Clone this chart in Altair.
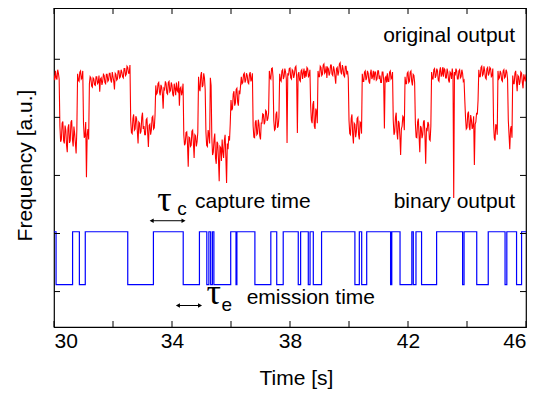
import altair as alt
import pandas as pd

# ---------------- data ----------------
# original (red) output, read every 0.025 s from 30 s
red_t0 = 30.0
red_dt = 0.025
red_values = [
    3.72, 3.64, 3.80, 3.68, 3.65, 3.82, 3.76, 3.66,
    2.85, 2.58, 2.62, 2.90, 2.93, 2.60, 2.55, 2.86, 2.78, 2.52, 2.40, 2.82,
    2.88, 2.56, 2.60, 2.92, 2.95, 2.62, 2.50, 2.84, 2.72, 2.55, 2.38, 2.80,
    3.75, 3.64, 3.62, 3.78, 3.80, 3.66, 3.68, 3.80,
    2.90, 2.65, 2.68, 2.92, 1.97, 2.70, 2.80, 2.62,
    3.58, 3.70, 3.68, 3.54, 3.52, 3.68, 3.66, 3.56, 3.55, 3.70, 3.70, 3.58, 3.60, 3.72,
    3.44, 3.66, 3.68, 3.56, 3.62, 3.74, 3.72, 3.60, 3.58, 3.74, 3.74, 3.62, 3.64, 3.76,
    3.76, 3.64, 3.60, 3.78, 3.70, 3.62, 3.48, 3.76, 3.74, 3.64, 3.66, 3.80, 3.80, 3.68,
    3.70, 3.82, 3.78, 3.70, 3.68, 3.84, 3.84, 3.72, 3.74, 3.88, 3.86, 3.76, 3.76, 3.90,
    2.95, 2.74, 2.72, 2.98, 3.05, 2.78, 2.80, 3.02, 2.98, 2.76, 2.55, 2.92, 2.90, 2.72,
    2.76, 3.00, 3.08, 2.80, 2.85, 2.70, 2.70, 2.96, 2.98, 2.74, 2.49, 2.86, 2.88, 2.70,
    2.78, 3.00, 3.02, 2.80, 2.82, 3.04,
    3.55, 3.40, 3.42, 3.58, 3.60, 3.44, 3.38, 3.56, 3.52, 3.40, 3.15, 3.50, 3.48, 3.62,
    3.58, 3.42, 3.40, 3.60, 3.62, 3.44, 3.46, 3.60, 3.55, 3.40, 3.36, 3.58, 3.50, 3.38,
    3.60, 3.46, 3.44, 3.62, 3.20, 3.50, 3.52, 3.38, 3.45, 3.58,
    2.70, 2.52, 2.55, 2.74, 2.75, 2.54, 2.15, 2.66, 2.65, 2.50, 2.52, 2.76, 2.78, 2.56,
    2.30, 2.70, 2.68, 2.50, 2.58, 2.74,
    3.70, 3.50, 3.45, 3.72, 3.78, 3.52, 3.55, 3.76, 3.68, 3.48,
    2.75, 2.52, 2.50, 2.78, 2.70, 2.55,
    3.68, 3.55,
    2.65, 2.35, 2.40, 2.62, 2.72, 2.30, 2.20, 2.58, 2.55, 2.28, 1.90, 2.50, 2.48, 2.25,
    2.62, 2.40, 2.30, 2.60, 2.70, 2.32, 1.87, 2.55, 2.45, 2.68, 2.60, 2.90,
    3.30, 3.12, 3.15, 3.40, 3.45, 3.20, 3.25, 3.48, 3.50, 3.26, 3.20, 3.46, 3.40, 3.55,
    3.70, 3.58, 3.60, 3.74, 3.76, 3.60, 3.64, 3.76, 3.72, 3.60, 3.58, 3.74, 3.78, 3.62,
    3.66, 3.76,
    2.85, 2.66, 2.65, 2.92, 2.95, 2.70, 2.72, 2.96, 2.88, 2.68, 2.62, 2.90, 2.90, 3.06,
    3.05, 2.88, 2.92, 3.12, 3.10, 2.94, 2.98, 3.08,
    3.80, 3.68, 3.66, 3.84, 3.85, 3.70,
    2.95, 2.78, 2.80, 3.05, 3.10, 2.82, 2.85, 3.00,
    3.75, 3.64, 3.62, 3.80, 3.82, 3.66, 3.70, 3.84, 3.78, 3.66, 2.56, 3.76, 3.72, 3.84,
    3.85, 3.68, 3.66, 3.82, 3.80, 3.68, 3.74, 3.86, 3.88, 3.70, 2.73, 3.74, 3.78, 3.64,
    3.62, 3.80, 3.82, 3.66, 3.76, 3.84, 3.68, 3.80, 3.70, 3.86, 3.84, 3.70, 3.72, 3.82,
    3.20, 2.95, 2.90, 3.22, 3.28, 2.85, 2.80, 3.15, 3.10, 2.90,
    3.80, 3.70, 3.70, 3.88, 3.86, 3.72, 3.74, 3.90, 3.92, 3.76, 3.78, 3.88, 3.68, 3.86,
    3.84, 3.72, 3.76, 3.90, 3.90, 3.74, 3.72, 3.88, 3.82, 3.70, 3.58, 3.84, 3.86, 3.72,
    3.78, 3.92, 3.94, 3.78, 3.74, 3.90, 3.84, 3.72, 3.70, 3.88, 3.88, 3.74, 3.80, 3.68,
    2.95, 2.72, 2.70, 2.98, 3.05, 2.70, 2.55, 2.90, 2.88, 2.66, 2.75, 2.98, 3.00, 2.70,
    2.62, 2.92, 2.90, 2.72,
    3.75, 3.62, 3.62, 3.78, 3.80, 3.64, 3.68, 3.80, 3.76, 3.62, 3.58, 3.76, 3.82, 3.66,
    3.70, 3.80, 3.64, 3.78, 3.78, 3.64, 3.66, 3.80, 3.80, 3.66, 3.72, 3.60, 3.60, 3.78,
    3.78, 3.64, 2.81, 3.68, 3.70, 3.60, 3.76, 3.62, 3.62, 3.78, 3.80, 3.66, 3.68, 3.78,
    2.95, 2.70, 2.75, 3.00, 3.08, 2.74, 2.62, 2.94, 2.90, 2.68, 2.35, 2.80, 2.85, 3.02,
    3.00, 2.78,
    3.70, 3.58, 3.58, 3.76, 3.78, 3.60, 3.62, 3.78, 3.80, 3.62, 3.55, 3.74, 3.72, 3.60,
    2.90, 2.66, 2.65, 2.92, 2.98, 2.68, 2.40, 2.85, 2.82, 2.64, 2.70, 2.92, 2.95, 2.68,
    2.20, 2.80, 2.78, 2.92, 2.88, 2.62, 2.60, 2.85,
    3.78, 3.66, 3.66, 3.82, 3.84, 3.68, 3.72, 3.84, 3.80, 3.64, 3.62, 3.80, 3.86, 3.70,
    3.74, 3.86, 3.70, 3.84, 3.82, 3.68, 3.68, 3.84, 3.78, 3.64, 3.60, 3.78, 3.76, 3.66,
    3.84, 3.72, 1.61, 3.78, 3.72, 3.84, 3.80, 3.66, 3.66, 3.80, 3.82, 3.68, 3.70, 3.82,
    3.76, 3.62, 3.64, 3.30,
    3.00, 2.80, 2.82, 3.06, 3.10, 2.84, 2.78, 3.04, 2.95, 2.80, 2.85, 3.02, 2.18, 2.88,
    2.92, 3.08, 3.05, 3.30,
    3.82, 3.70, 3.70, 3.86, 3.88, 3.72, 3.74, 3.88, 3.80, 3.68, 3.66, 3.84, 3.86, 3.72,
    3.76, 3.86, 3.84, 3.70, 3.72, 3.84,
    2.90, 2.65, 2.60, 2.88, 2.85, 2.70,
    3.80, 3.66, 3.68, 3.80, 3.76, 3.64, 3.62, 3.80, 3.82, 3.68, 3.70, 3.82, 3.78, 3.66,
    2.95, 2.70, 2.45, 2.80, 2.85, 2.65,
    3.72, 3.58, 3.58, 3.76, 3.80, 3.62, 3.45, 3.72, 3.70, 3.56, 3.62, 3.78, 3.76, 3.60,
    3.50, 3.74, 3.68, 3.62, 3.74,
]

# binary (blue) output: starts high, toggles at these times [s]
blue_start = 30.0
blue_end = 46.0
blue_toggles = [
    30.07, 30.63, 30.86, 31.06, 32.50, 33.37, 34.38, 34.93, 35.18, 35.25,
    35.31, 35.37, 35.42, 35.99, 36.17, 36.20, 36.81, 37.35, 37.55, 37.77,
    38.28, 38.36, 38.62, 38.68, 38.79, 39.07, 40.20, 40.35, 40.43, 40.60,
    41.41, 41.45, 41.73, 42.13, 42.18, 42.27, 42.46, 42.97, 43.85, 43.90,
    44.33, 44.72, 45.29, 45.35, 45.68, 45.85,
]
blue_high = 1.03
blue_low = 0.12

x_tick_values = [30, 32, 34, 36, 38, 40, 42, 44, 46]
x_label_values = [30, 34, 38, 42, 46]
y_tick_values = [0, 1, 2, 3, 4]

# annotations
label_text = ["original output", "binary output"]
label_t = [45.63, 45.63]
label_v = [4.30, 1.44]

note_text = ["capture time", "emission time"]
note_t = [34.78, 36.53]
note_v = [1.44, -0.21]

tau_t = [33.50, 35.17]
tau_v = [1.38, -0.22]
sub_text = ["c", "e"]
sub_t = [34.18, 35.68]
sub_v = [1.31, -0.33]

arrow_t1 = [33.31, 34.20]
arrow_t2 = [34.39, 34.95]
arrow_v = [1.22, -0.24]

# ---------------- build tables ----------------
red_df = pd.DataFrame({
    "t": [red_t0 + i * red_dt for i in range(len(red_values))],
    "v": red_values,
})

bt = [blue_start]
bv = [blue_high]
state = blue_high
for tt in blue_toggles:
    state = blue_low if state == blue_high else blue_high
    bt.append(tt)
    bv.append(state)
bt.append(blue_end)
bv.append(state)
blue_df = pd.DataFrame({"t": bt, "v": bv})

W, H = 472, 319
FONT = "Liberation Sans"
xs = alt.Scale(domain=[30, 46], nice=False, zero=False)
ys = alt.Scale(domain=[-0.61, 4.883], nice=False, zero=False)

x_axis = alt.Axis(values=x_label_values, ticks=False, domain=False, grid=False,
                  labelFontSize=21, labelFont=FONT, labelColor="black", labelPadding=3,
                  title="Time [s]", titleFont=FONT, titleFontSize=21, titleFontWeight="normal",
                  titleColor="black", titleBaseline="alphabetic", titleY=57, titleX=242)
y_axis = alt.Axis(ticks=False, labels=False, domain=False, grid=False,
                  title="Frequency [a.u.]", titleFont=FONT, titleFontSize=21,
                  titleFontWeight="normal", titleColor="black", titleAngle=270,
                  titleX=-29, titleY=157, titleAlign="center", titleBaseline="middle")


def X(field):
    return alt.X(field, scale=xs, axis=x_axis)


def Y(field):
    return alt.Y(field, scale=ys, axis=y_axis)


red = alt.Chart(red_df).mark_line(color="#ff0000", strokeWidth=1.1, clip=True).encode(
    x=X("t:Q"), y=Y("v:Q"))
blue = alt.Chart(blue_df).mark_line(color="#0000ff", strokeWidth=1.2,
                                    interpolate="step-after", clip=True).encode(
    x=X("t:Q"), y=Y("v:Q"))

xt_df = pd.DataFrame({"t": x_tick_values})
yt_df = pd.DataFrame({"v": y_tick_values})
tick_bottom = alt.Chart(xt_df).mark_rule(color="black", strokeWidth=1).encode(
    x=X("t:Q"), y=alt.value(H), y2=alt.value(H - 6))
tick_top = alt.Chart(xt_df).mark_rule(color="black", strokeWidth=1).encode(
    x=X("t:Q"), y=alt.value(0), y2=alt.value(6))
tick_left = alt.Chart(yt_df).mark_rule(color="black", strokeWidth=1).encode(
    y=Y("v:Q"), x=alt.value(0), x2=alt.value(6))
tick_right = alt.Chart(yt_df).mark_rule(color="black", strokeWidth=1).encode(
    y=Y("v:Q"), x=alt.value(W - 6), x2=alt.value(W))

lab_df = pd.DataFrame({"t": label_t, "v": label_v, "s": label_text})
labels = alt.Chart(lab_df).mark_text(align="right", baseline="alphabetic", font=FONT,
                                     fontSize=21, color="black").encode(
    x=X("t:Q"), y=Y("v:Q"), text="s:N")

note_df = pd.DataFrame({"t": note_t, "v": note_v, "s": note_text})
notes = alt.Chart(note_df).mark_text(align="left", baseline="alphabetic", font=FONT,
                                     fontSize=21, color="black").encode(
    x=X("t:Q"), y=Y("v:Q"), text="s:N")

tau_df = pd.DataFrame({"t": tau_t, "v": tau_v, "s": ["\u03c4", "\u03c4"]})
taus = alt.Chart(tau_df).mark_text(align="left", baseline="alphabetic", font="Liberation Serif",
                                   fontSize=36, color="black").encode(
    x=X("t:Q"), y=Y("v:Q"), text="s:N")

sub_df = pd.DataFrame({"t": sub_t, "v": sub_v, "s": sub_text})
subs = alt.Chart(sub_df).mark_text(align="left", baseline="alphabetic", font=FONT,
                                   fontSize=19, color="black").encode(
    x=X("t:Q"), y=Y("v:Q"), text="s:N")

arr_df = pd.DataFrame({"t1": arrow_t1, "t2": arrow_t2, "v": arrow_v})
arr_line = alt.Chart(arr_df).mark_rule(color="black", strokeWidth=1).encode(
    x=X("t1:Q"), x2="t2:Q", y=Y("v:Q"))
arr_left = alt.Chart(arr_df).mark_point(shape="triangle-left", filled=True, color="black",
                                        size=22, opacity=1).encode(
    x=X("t1:Q"), y=Y("v:Q"))
arr_right = alt.Chart(arr_df).mark_point(shape="triangle-right", filled=True, color="black",
                                         size=22, opacity=1).encode(
    x=X("t2:Q"), y=Y("v:Q"))

chart = alt.layer(
    red, blue, tick_bottom, tick_top, tick_left, tick_right,
    labels, notes, taus, subs, arr_line, arr_left, arr_right,
).properties(
    width=W, height=H,
    autosize=alt.AutoSizeParams(type="none"),
    padding={"left": 46, "top": 0, "right": 10, "bottom": 66},
).configure_view(stroke="black", strokeWidth=1.2)

chart.save("out.html", embed_options={"renderer": "svg", "actions": False})
